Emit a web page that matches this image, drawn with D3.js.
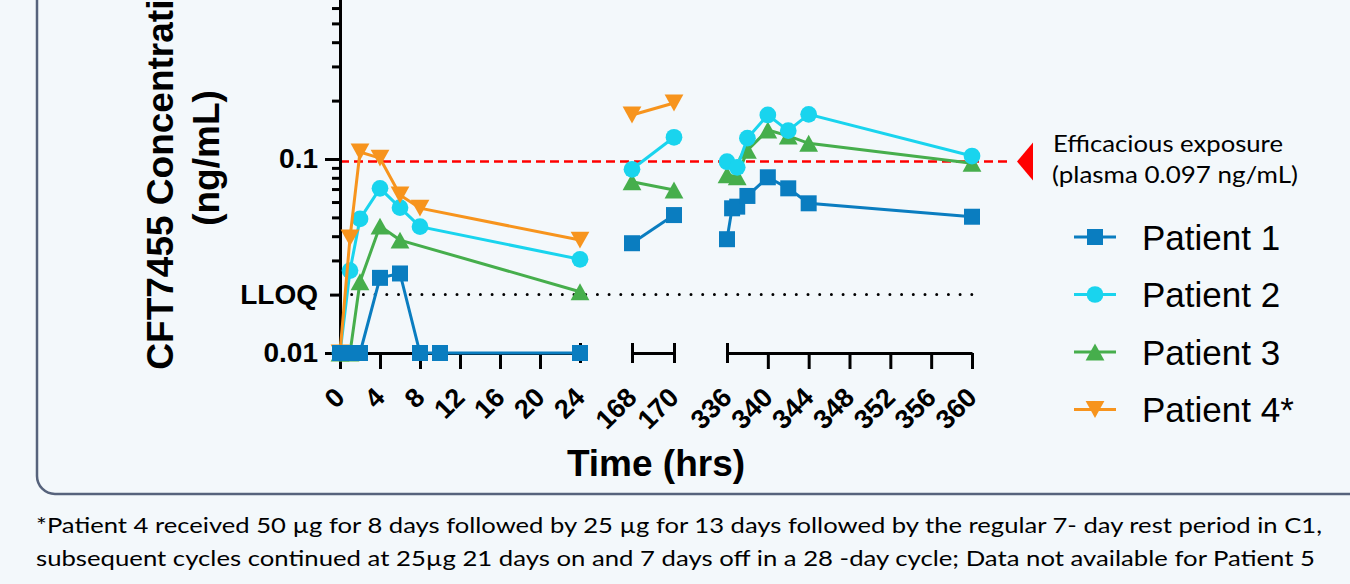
<!DOCTYPE html>
<html>
<head>
<meta charset="utf-8">
<script src="https://cdn.jsdelivr.net/npm/d3@7"></script>
<style>
  html, body { margin: 0; padding: 0; background: #f3f8fb; }
  svg { display: block; }
  .axis path, .axis line { stroke: #000; stroke-width: 3; }
  .axis text { font-family: "Liberation Sans", Arial, sans-serif; font-weight: bold; font-size: 28px; fill: #000; }
  .x-axis text { font-size: 27px; }
  .title { font-family: "Liberation Sans", Arial, sans-serif; font-weight: bold; font-size: 37px; fill: #000; }
  .legend text { font-family: "Liberation Sans", Arial, sans-serif; font-size: 35px; fill: #000; }
  .note { font-family: Lato, "Noto Sans", sans-serif; fill: #000; }
</style>
</head>
<body>
<svg id="chart" width="1350" height="584"></svg>
<script>
// data (concentration in ng/mL, time in hours)
const p1Time = [0, 1, 2, 4, 6, 8, 10, 24, 168, 170, 336, 336.5, 337, 338, 340, 342, 344, 360];
const p1Conc = [0.01, 0.01, 0.01, 0.0244, 0.0257, 0.01, 0.01, 0.01, 0.0368, 0.0514, 0.0386, 0.0557, 0.0568, 0.0645, 0.0805, 0.0706, 0.0591, 0.0504];

const p2Time = [0, 1, 2, 4, 6, 8, 24, 168, 170, 336, 337, 338, 340, 342, 344, 360];
const p2Conc = [0.01, 0.0266, 0.0491, 0.0706, 0.0561, 0.0448, 0.0304, 0.0885, 0.1294, 0.0968, 0.0906, 0.128, 0.1686, 0.140, 0.170, 0.1036];

const p3Time = [0, 1, 2, 4, 6, 24, 168, 170, 336, 337, 338, 340, 342, 344, 360];
const p3Conc = [0.01, 0.01, 0.0233, 0.0451, 0.0382, 0.0207, 0.0764, 0.0692, 0.0828, 0.081, 0.111, 0.141, 0.1315, 0.1205, 0.095];

const p4Time = [0, 1, 2, 4, 6, 8, 24, 168, 170];
const p4Conc = [0.01, 0.0392, 0.1086, 0.101, 0.0652, 0.0558, 0.0382, 0.1687, 0.1944];

const patientNames = ['Patient 1', 'Patient 2', 'Patient 3', 'Patient 4*'];

// broken time axis
const segDomains = [[0, 24], [168, 170], [336, 360]];
const segTicks = [
  [0, 4, 8, 12, 16, 20, 24],
  [168, 170],
  [336, 340, 344, 348, 352, 356, 360],
];
const capTimes = [24, 168, 170, 336];

const yMinorTicks = [0.03, 0.04, 0.05, 0.06, 0.07, 0.08, 0.09, 0.2, 0.3, 0.4, 0.5, 0.6, 0.7, 0.8, 0.9];
const yMajorTicks = [0.01, 0.1, 1];
const yMajorLabels = ['0.01', '0.1', ''];
const LLOQ = 0.02;
const EFFICACIOUS = 0.097;

const footnote = [
  '*Patient 4 received 50 \u00b5g for 8 days followed by 25 \u00b5g for 13 days followed by the regular 7- day rest period in C1,',
  'subsequent cycles continued at 25\u00b5g 21 days on and 7 days off in a 28 -day cycle; Data not available for Patient 5',
];

const colors = ['#0a7dc0', '#19d4ee', '#46ae4c', '#f7941d'];

//
// Layout
//

const svg = d3.select('#chart');

const AXIS_X = 340;
const AXIS_Y = 353;
const DECADE = 194;

const segRanges = [[340, 580], [632, 674], [727, 972]];
const segScales = segDomains.map((d, i) => d3.scaleLinear().domain(d).range(segRanges[i]));

const segOf = (t) => segDomains.findIndex((d) => t >= d[0] && t <= d[1]);
const x = (t) => segScales[segOf(t)](t);

const y = d3.scaleLog().domain([0.01, 1]).range([AXIS_Y, AXIS_Y - 2 * DECADE]);

//
// Frame
//

svg.append('rect')
  .attr('x', 37).attr('y', -40)
  .attr('width', 1420).attr('height', 534)
  .attr('rx', 18)
  .attr('fill', 'none')
  .attr('stroke', '#56637c')
  .attr('stroke-width', 2.5);

//
// Reference lines
//

svg.append('line')
  .attr('x1', AXIS_X).attr('x2', segRanges[2][1])
  .attr('y1', y(LLOQ)).attr('y2', y(LLOQ))
  .attr('stroke', '#000')
  .attr('stroke-width', 3)
  .attr('stroke-linecap', 'round')
  .attr('stroke-dasharray', '0 11.7');

svg.append('line')
  .attr('x1', AXIS_X).attr('x2', 1012)
  .attr('y1', y(EFFICACIOUS)).attr('y2', y(EFFICACIOUS))
  .attr('stroke', '#ff0000')
  .attr('stroke-width', 2.5)
  .attr('stroke-dasharray', '9 5');

const yRef = y(EFFICACIOUS);
svg.append('path')
  .attr('d', `M1017,${yRef}L1033,${yRef - 19}L1033,${yRef + 19}Z`)
  .attr('fill', '#ff0000');

svg.append('text').attr('class', 'note')
  .attr('x', 1053).attr('y', 152)
  .attr('font-size', 24)
  .attr('textLength', 230).attr('lengthAdjust', 'spacingAndGlyphs')
  .text('Efficacious exposure');

svg.append('text').attr('class', 'note')
  .attr('x', 1052).attr('y', 183)
  .attr('font-size', 24)
  .attr('textLength', 246).attr('lengthAdjust', 'spacingAndGlyphs')
  .text('(plasma 0.097 ng/mL)');

//
// Y axis
//

const yAxis = svg.append('g')
  .attr('class', 'axis y-axis')
  .attr('transform', `translate(${AXIS_X},0)`);

yAxis.append('g')
  .call(d3.axisLeft(y).tickValues(yMinorTicks).tickSize(8).tickSizeOuter(0).tickFormat(() => ''))
  .call((g) => g.select('.domain').remove());

yAxis.append('g')
  .call(d3.axisLeft(y).tickValues([LLOQ]).tickSize(10).tickPadding(12).tickFormat(() => 'LLOQ'))
  .call((g) => g.select('.domain').remove());

yAxis.append('g')
  .call(d3.axisLeft(y).tickValues(yMajorTicks).tickSize(15).tickSizeOuter(0).tickPadding(7)
    .tickFormat((d, i) => yMajorLabels[i]));

//
// X axis segments
//

segScales.forEach((s, i) => {
  const g = svg.append('g')
    .attr('class', 'axis x-axis')
    .attr('transform', `translate(0,${AXIS_Y})`)
    .call(d3.axisBottom(s).tickValues(segTicks[i]).tickSize(16).tickSizeOuter(0).tickFormat((d) => String(d)));

  g.selectAll('.tick line')
    .filter((d) => capTimes.includes(d))
    .attr('y1', -10).attr('y2', 10);

  g.selectAll('.tick text')
    .attr('x', 0).attr('y', 0).attr('dy', 0)
    .attr('text-anchor', 'end')
    .attr('transform', 'translate(6,46) rotate(-45)');
});

//
// Titles
//

svg.append('text').attr('class', 'title')
  .attr('text-anchor', 'middle')
  .attr('transform', 'translate(173,162) rotate(-90)')
  .text('CFT7455 Concentration');

svg.append('text').attr('class', 'title')
  .attr('text-anchor', 'middle')
  .attr('transform', 'translate(219,158) rotate(-90)')
  .text('(ng/mL)');

svg.append('text').attr('class', 'title')
  .attr('text-anchor', 'middle')
  .attr('x', (segRanges[0][0] + segRanges[2][1]) / 2)
  .attr('y', 476)
  .text('Time (hrs)');

//
// Series
//

const triUp = {
  draw(ctx, size) {
    const w = Math.sqrt(size / 0.85) / 2;
    const h = w * 1.8;
    ctx.moveTo(0, -h / 2);
    ctx.lineTo(w, h / 2);
    ctx.lineTo(-w, h / 2);
    ctx.closePath();
  },
};
const triDown = {
  draw(ctx, size) {
    const w = Math.sqrt(size / 0.85) / 2;
    const h = w * 1.8;
    ctx.moveTo(0, h / 2);
    ctx.lineTo(w, -h / 2);
    ctx.lineTo(-w, -h / 2);
    ctx.closePath();
  },
};

const series = [
  { time: p1Time, conc: p1Conc, symbol: d3.symbol(d3.symbolSquare, 256) },
  { time: p2Time, conc: p2Conc, symbol: d3.symbol(d3.symbolCircle, 220) },
  { time: p3Time, conc: p3Conc, symbol: d3.symbol(triUp, 300) },
  { time: p4Time, conc: p4Conc, symbol: d3.symbol(triDown, 300) },
];

const line = d3.line().x((d) => x(d.t)).y((d) => y(d.c));

const drawOrder = [2, 1, 3, 0];

drawOrder.forEach((k) => {
  const s = series[k];
  const pts = s.time.map((t, i) => ({ t, c: s.conc[i] }));
  const groups = d3.groups(pts, (d) => segOf(d.t));
  const g = svg.append('g');

  groups.forEach(([, seg]) => {
    g.append('path')
      .datum(seg)
      .attr('fill', 'none')
      .attr('stroke', colors[k])
      .attr('stroke-width', 3)
      .attr('d', line);
  });

  g.selectAll('path.marker')
    .data(pts)
    .join('path')
    .attr('class', 'marker')
    .attr('transform', (d) => `translate(${x(d.t)},${y(d.c)})`)
    .attr('fill', colors[k])
    .attr('d', s.symbol);
});

//
// Legend
//

const legend = svg.append('g').attr('class', 'legend');
const rowY = d3.scaleLinear().domain([0, 3]).range([237, 409.5]);

patientNames.forEach((name, k) => {
  const ry = rowY(k);
  legend.append('line')
    .attr('x1', 1074).attr('x2', 1116)
    .attr('y1', ry).attr('y2', ry)
    .attr('stroke', colors[k])
    .attr('stroke-width', 3);
  legend.append('path')
    .attr('transform', `translate(1095,${ry})`)
    .attr('fill', colors[k])
    .attr('d', series[k].symbol);
  legend.append('text')
    .attr('x', 1142).attr('y', ry + 12.5)
    .text(name);
});

//
// Footnote
//

svg.append('text').attr('class', 'note')
  .attr('x', 36).attr('y', 533)
  .attr('font-size', 22)
  .attr('textLength', 1286).attr('lengthAdjust', 'spacingAndGlyphs')
  .text(footnote[0]);

svg.append('text').attr('class', 'note')
  .attr('x', 36).attr('y', 566)
  .attr('font-size', 22)
  .attr('textLength', 1279).attr('lengthAdjust', 'spacingAndGlyphs')
  .text(footnote[1]);
</script>
</body>
</html>
